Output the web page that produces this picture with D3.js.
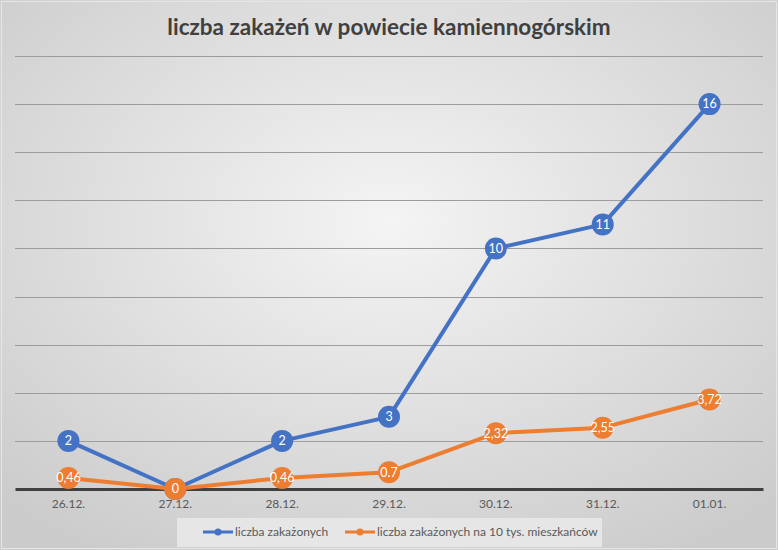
<!DOCTYPE html>
<html>
<head>
<meta charset="utf-8">
<script src="https://cdn.jsdelivr.net/npm/d3@7"></script>
<style>
  body { margin: 0; background: #fff; }
  svg { display: block; }
</style>
</head>
<body>
<div id="chart"></div>
<script>
var width = 778, height = 550;
var margin = {top: 56, right: 15, bottom: 61, left: 15};

// data
var days = ['26.12.', '27.12.', '28.12.', '29.12.', '30.12.', '31.12.', '01.01.'];
var cases = [2, 0, 2, 3, 10, 11, 16];
var casesPer10k = [0.46, 0, 0.46, 0.7, 2.32, 2.55, 3.72];
var casesPer10kLabels = ['0,46', '0', '0,46', '0.7', '2,32', '2,55', '3,72'];
var gridTicks = [2, 4, 6, 8, 10, 12, 14, 16, 18];

var series = [
  {name: 'liczba zakażonych', color: '#4472c4', values: cases, labels: cases.map(String)},
  {name: 'liczba zakażonych na 10 tys. mieszkańców', color: '#ed7d31', values: casesPer10k, labels: casesPer10kLabels}
];

var font = 'Lato, Carlito, sans-serif';

var svg = d3.select('#chart').append('svg')
  .attr('width', width)
  .attr('height', height);

// background gradient (light in middle, greyer to the edges)
var defs = svg.append('defs');
var bg = defs.append('radialGradient')
  .attr('id', 'bg')
  .attr('cx', '50%').attr('cy', '40%').attr('r', '72%');
bg.append('stop').attr('offset', '0%').attr('stop-color', '#f4f4f4');
bg.append('stop').attr('offset', '100%').attr('stop-color', '#cbcbcb');

svg.append('rect')
  .attr('width', width).attr('height', height)
  .attr('fill', 'url(#bg)');
svg.append('rect')
  .attr('x', 1.5).attr('y', 1.5)
  .attr('width', width - 3).attr('height', height - 3)
  .attr('fill', 'none')
  .attr('stroke', '#e6e6e6')
  .attr('stroke-width', 1);

var x = d3.scaleBand()
  .domain(days)
  .range([margin.left, width - margin.right]);

var y = d3.scaleLinear()
  .domain([0, 18])
  .range([height - margin.bottom, margin.top]);

// title
svg.append('text')
  .attr('x', width / 2)
  .attr('y', 35)
  .attr('text-anchor', 'middle')
  .style('font-family', font)
  .style('font-size', '22.5px')
  .style('font-weight', 'bold')
  .style('fill', '#404040')
  .text('liczba zakażeń w powiecie kamiennogórskim');

// gridlines
svg.append('g')
  .selectAll('line')
  .data(gridTicks)
  .enter().append('line')
  .attr('x1', margin.left)
  .attr('x2', width - margin.right)
  .attr('y1', d => Math.round(y(d)) + 0.5)
  .attr('y2', d => Math.round(y(d)) + 0.5)
  .attr('stroke', '#9c9c9c')
  .attr('stroke-width', 1);

// x axis
var xAxis = svg.append('g')
  .attr('transform', `translate(0,${y(0)})`)
  .call(d3.axisBottom(x).tickSize(0).tickPadding(10));
xAxis.select('.domain')
  .attr('stroke', '#404040')
  .attr('stroke-width', 3);
xAxis.selectAll('text')
  .style('font-family', font)
  .style('font-size', '12px')
  .style('fill', '#595959');

var line = d3.line()
  .x(d => x(d.day) + x.bandwidth() / 2)
  .y(d => y(d.value));

series.forEach(function(s, si) {
  var pts = s.values.map((v, i) => ({day: days[i], value: v, label: s.labels[i], i: i}));
  var g = svg.append('g');
  g.append('path')
    .datum(pts)
    .attr('d', line)
    .attr('fill', 'none')
    .attr('stroke', s.color)
    .attr('stroke-width', 4)
    .attr('stroke-linejoin', 'round');

  var marks = g.selectAll('g.pt')
    .data(pts)
    .enter().append('g')
    .attr('class', 'pt')
    .attr('transform', d => `translate(${x(d.day) + x.bandwidth() / 2},${y(d.value)})`);
  marks.append('circle')
    .attr('r', 11)
    .attr('fill', s.color);
  // a blue label sitting under the orange marker is hidden in the original
  marks.filter(d => !(si === 0 && casesPer10k[d.i] === d.value))
    .append('text')
    .attr('text-anchor', 'middle')
    .attr('dy', '0.35em')
    .style('font-family', font)
    .style('font-size', '12.5px')
    .style('fill', '#fff')
    .text(d => d.label);
});

// legend
var legend = svg.append('g');
legend.append('rect')
  .attr('x', 177).attr('y', 518)
  .attr('width', 425).attr('height', 29)
  .attr('fill', '#e6e6e6');

var legendX = [203, 345];
series.forEach(function(s, i) {
  var lg = legend.append('g').attr('transform', `translate(${legendX[i]},532)`);
  lg.append('line')
    .attr('x1', 0).attr('x2', 30)
    .attr('stroke', s.color)
    .attr('stroke-width', 3);
  lg.append('circle')
    .attr('cx', 15).attr('r', 3.5)
    .attr('fill', s.color);
  lg.append('text')
    .attr('x', 32)
    .attr('dy', '0.35em')
    .style('font-family', font)
    .style('font-size', '12px')
    .style('fill', '#595959')
    .text(s.name);
});
</script>
</body>
</html>
